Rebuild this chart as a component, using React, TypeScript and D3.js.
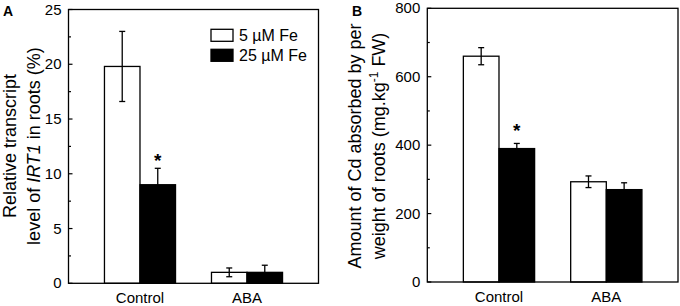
import React from "react";
import * as d3 from "d3";

const categories = ["Control", "ABA"];
const seriesNames = ["5 µM Fe", "25 µM Fe"];
const seriesFill = ["#ffffff", "#000000"];

// Panel A: relative transcript level of IRT1 (%)
const aValues = [
  [19.8, 1.0],
  [9.0, 1.0],
];
const aErrors = [
  [3.2, 0.4],
  [1.5, 0.65],
];
const aSignif = [
  [false, false],
  [true, false],
];
const aTicks = [0, 5, 10, 15, 20, 25];
const aMinor = [2.5, 7.5, 12.5, 17.5, 22.5];

// Panel B: Cd absorbed (mg.kg-1 FW)
const bValues = [
  [660, 293],
  [390, 270],
];
const bErrors = [
  [25, 17],
  [15, 20],
];
const bSignif = [
  [false, false],
  [true, false],
];
const bTicks = [0, 200, 400, 600, 800];
const bMinor = [100, 300, 500, 700];

const FONT = "'Liberation Sans', Arial, Helvetica, sans-serif";

type PanelProps = {
  x0: number;
  x1: number;
  y0: number;
  y1: number;
  domainMax: number;
  values: number[][];
  errors: number[][];
  signif: boolean[][];
  ticks: number[];
  minor: number[];
  starGap: number;
};

function Panel(p: PanelProps) {
  const x = d3.scaleBand<string>().domain(categories).range([p.x0, p.x1]).padding(0.336);
  const xs = d3.scaleBand<number>().domain([0, 1]).range([0, x.bandwidth()]).padding(0);
  const y = d3.scaleLinear().domain([0, p.domainMax]).range([p.y0, p.y1]);
  const bars: React.ReactNode[] = [];
  p.values.forEach((vals, s) => {
    vals.forEach((v, c) => {
      const bx = (x(categories[c]) as number) + (xs(s) as number);
      const bw = xs.bandwidth();
      const top = y(v);
      const err = p.errors[s][c];
      const cx = bx + bw / 2;
      const eTop = y(v + err);
      const eBot = y(v - err);
      bars.push(
        <g key={`b${s}-${c}`}>
          <rect x={bx} y={top} width={bw} height={p.y0 - top} fill={seriesFill[s]} stroke="#000" strokeWidth={1.3} />
          <line x1={cx} x2={cx} y1={eTop} y2={s === 0 ? eBot : top} stroke="#000" strokeWidth={1.3} />
          <line x1={cx - 3} x2={cx + 3} y1={eTop} y2={eTop} stroke="#000" strokeWidth={1.3} />
          {s === 0 && <line x1={cx - 3} x2={cx + 3} y1={eBot} y2={eBot} stroke="#000" strokeWidth={1.3} />}
          {p.signif[s][c] && (
            <text x={cx} y={eTop - p.starGap} textAnchor="middle" fontSize={19} fontWeight="bold" fontFamily={FONT}>
              *
            </text>
          )}
        </g>
      );
    });
  });
  return (
    <g>
      {bars}
      <rect x={p.x0} y={p.y1} width={p.x1 - p.x0} height={p.y0 - p.y1} fill="none" stroke="#000" strokeWidth={1.3} />
      {p.ticks.map((t) => (
        <g key={`t${t}`}>
          <line x1={p.x0} x2={p.x0 + 4} y1={y(t)} y2={y(t)} stroke="#000" strokeWidth={1.2} />
          <text x={p.x0 - 7} y={y(t) + 5} textAnchor="end" fontSize={15} fontFamily={FONT}>
            {t}
          </text>
        </g>
      ))}
      {p.minor.map((t) => (
        <line key={`m${t}`} x1={p.x0} x2={p.x0 + 2.5} y1={y(t)} y2={y(t)} stroke="#000" strokeWidth={1.2} />
      ))}
      {categories.map((c) => (
        <text key={c} x={(x(c) as number) + x.bandwidth() / 2} y={p.y0 + 20} textAnchor="middle" fontSize={15} fontFamily={FONT}>
          {c}
        </text>
      ))}
    </g>
  );
}

export default function App() {
  return (
    <svg width={680} height={306} style={{ position: "absolute", left: 0, top: 0, background: "#fff" }}>
      <rect x={0} y={0} width={680} height={306} fill="#fff" />
      <text x={3} y={16} fontSize={14} fontWeight="bold" fontFamily={FONT}>A</text>
      <text x={352} y={16} fontSize={14} fontWeight="bold" fontFamily={FONT}>B</text>

      <Panel x0={68.5} x1={318.5} y0={283.3} y1={9.5} domainMax={25} values={aValues} errors={aErrors} signif={aSignif} ticks={aTicks} minor={aMinor} starGap={1} />
      <Panel x0={427.3} x1={678} y0={282} y1={8.3} domainMax={800} values={bValues} errors={bErrors} signif={bSignif} ticks={bTicks} minor={bMinor} starGap={6} />

      {/* Legend */}
      {seriesNames.map((n, i) => (
        <g key={n}>
          <rect x={211} y={29.3 + i * 20} width={22} height={12} fill={seriesFill[i]} stroke="#000" strokeWidth={1.3} />
          <text x={239} y={41 + i * 20} fontSize={16} fontFamily={FONT}>{n}</text>
        </g>
      ))}

      {/* Y titles */}
      <g transform="translate(16,146) rotate(-90)">
        <text textAnchor="middle" fontSize={18} fontFamily={FONT}>Relative transcript</text>
      </g>
      <g transform="translate(39.5,146) rotate(-90)">
        <text textAnchor="middle" fontSize={18} fontFamily={FONT}>
          level of <tspan fontStyle="italic">IRT1</tspan> in roots (%)
        </text>
      </g>
      <g transform="translate(361,146) rotate(-90)">
        <text textAnchor="middle" fontSize={18} fontFamily={FONT}>Amount of Cd absorbed by per</text>
      </g>
      <g transform="translate(384.5,146) rotate(-90)">
        <text textAnchor="middle" fontSize={18} fontFamily={FONT}>
          weight of roots (mg.kg<tspan dy={-7} fontSize={12}>-1</tspan><tspan dy={7}> FW)</tspan>
        </text>
      </g>
    </svg>
  );
}
